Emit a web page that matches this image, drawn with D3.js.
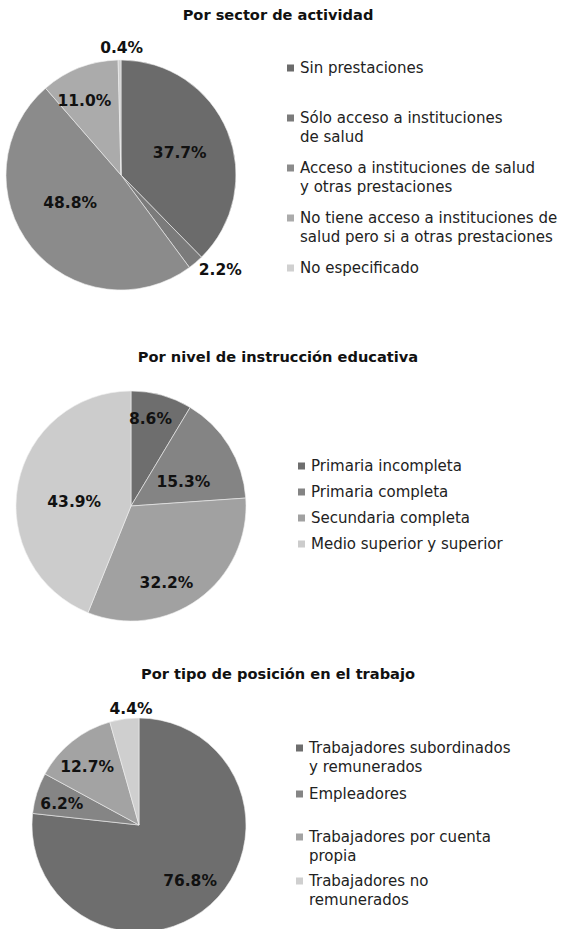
<!DOCTYPE html>
<html>
<head>
<meta charset="utf-8">
<script src="https://cdn.jsdelivr.net/npm/d3@7"></script>
<style>
  body { margin: 0; background: #fff; }
  text { font-family: "DejaVu Sans", Verdana, sans-serif; }
  .title { font-weight: bold; font-size: 14.6px; fill: #111; }
  .lbl { font-weight: bold; font-size: 15.5px; fill: #111; }
  .leg { font-size: 15px; fill: #222; }
</style>
</head>
<body>
<div class="wrapper"></div>
<script>
// ---- data ----
var sectorLabels = [
  ["Sin prestaciones"],
  ["Sólo acceso a instituciones", "de salud"],
  ["Acceso a instituciones de salud", "y otras prestaciones"],
  ["No tiene acceso a instituciones de", "salud pero si a otras prestaciones"],
  ["No especificado"]
];
var sectorValues = [37.7, 2.2, 48.8, 11.0, 0.4];

var nivelLabels = [
  ["Primaria incompleta"],
  ["Primaria completa"],
  ["Secundaria completa"],
  ["Medio superior y superior"]
];
var nivelValues = [8.6, 15.3, 32.2, 43.9];

var posicionLabels = [
  ["Trabajadores subordinados", "y remunerados"],
  ["Empleadores"],
  ["Trabajadores por cuenta", "propia"],
  ["Trabajadores no", "remunerados"]
];
var posicionValues = [76.8, 6.2, 12.7, 4.4];

// ---- layout ----
var W = 562, H = 929;

var charts = [
  {
    title: "Por sector de actividad", titleY: 20,
    labels: sectorLabels, values: sectorValues,
    colors: ["#6b6b6b", "#7b7b7b", "#8b8b8b", "#ababab", "#d0d0d0"],
    cx: 121, cy: 175, r: 115,
    labelR: [63, 137, 58, 83, 128],
    labelRot: [1, -6, 10, -5, 1],
    legX: 287, legY: [68, 118, 168, 218, 268]
  },
  {
    title: "Por nivel de instrucción educativa", titleY: 362,
    labels: nivelLabels, values: nivelValues,
    colors: ["#6e6e6e", "#848484", "#a1a1a1", "#cccccc"],
    cx: 131, cy: 506, r: 115,
    labelR: [90, 58, 84, 57],
    labelRot: [-3, 6, 11, -6],
    legX: 298, legY: [466, 492, 518, 544]
  },
  {
    title: "Por tipo de posición en el trabajo", titleY: 679,
    labels: posicionLabels, values: posicionValues,
    colors: ["#6e6e6e", "#858585", "#a3a3a3", "#cfcfcf"],
    cx: 139, cy: 825, r: 107,
    labelR: [75, 80, 78, 117],
    labelRot: [-1, -2, -3, 4],
    legX: 296, legY: [748, 794, 837, 881]
  }
];

var svg = d3.select(".wrapper")
  .append("svg")
  .attr("width", W)
  .attr("height", H);

var lineH = 19;

charts.forEach(function(c) {
  svg.append("text")
    .attr("class", "title")
    .attr("x", 278)
    .attr("y", c.titleY)
    .attr("text-anchor", "middle")
    .text(c.title);

  var pie = d3.pie().sort(null).value(function(d) { return d; });
  var arcs = pie(c.values);
  var arc = d3.arc().innerRadius(0).outerRadius(c.r);

  var g = svg.append("g")
    .attr("transform", "translate(" + c.cx + "," + c.cy + ")");

  g.selectAll("path")
    .data(arcs)
    .enter()
    .append("path")
    .attr("d", arc)
    .attr("fill", function(d, i) { return c.colors[i]; })
    .attr("stroke", "#f0f0f0")
    .attr("stroke-width", 0.6);

  // value labels, placed along each slice's mid angle
  g.selectAll("text.lbl")
    .data(arcs)
    .enter()
    .append("text")
    .attr("class", "lbl")
    .attr("text-anchor", "middle")
    .attr("dy", "0.36em")
    .attr("transform", function(d, i) {
      var a = (d.startAngle + d.endAngle) / 2 + c.labelRot[i] * Math.PI / 180;
      var lr = c.labelR[i];
      return "translate(" + (Math.sin(a) * lr) + "," + (-Math.cos(a) * lr) + ")";
    })
    .text(function(d) { return d3.format(".1f")(d.data) + "%"; });

  // legend
  var leg = svg.selectAll(null)
    .data(c.labels)
    .enter()
    .append("g")
    .attr("transform", function(d, i) {
      return "translate(" + c.legX + "," + c.legY[i] + ")";
    });

  leg.append("rect")
    .attr("x", 0)
    .attr("y", -3.5)
    .attr("width", 7)
    .attr("height", 7)
    .attr("fill", function(d, i) { return c.colors[i]; });

  leg.append("text")
    .attr("class", "leg")
    .selectAll("tspan")
    .data(function(d) { return d; })
    .enter()
    .append("tspan")
    .attr("x", 13)
    .attr("y", function(d, j) { return j * lineH; })
    .attr("dy", "0.36em")
    .text(function(d) { return d; });
});
</script>
</body>
</html>
